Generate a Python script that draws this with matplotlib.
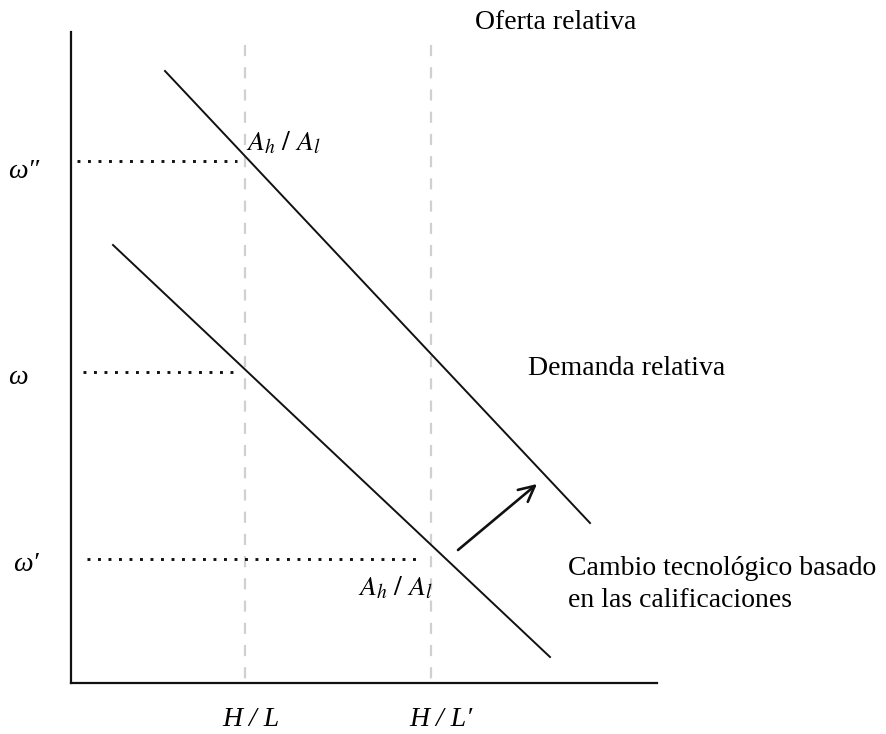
import matplotlib
matplotlib.use('Agg')
import matplotlib.pyplot as plt

plt.rcParams['mathtext.fontset'] = 'stix'
plt.rcParams['font.family'] = ['Liberation Serif', 'DejaVu Serif']

# ---- data (schematic diagram, figure-pixel-like units; y measured upward) ----
supply_x = [245, 431]                 # H/L and H/L'
supply_y = [689, 51]
supply_labels = ['H / L', 'H / L′']
supply_label_x = [251, 441]

demand_upper_x = [165, 590]
demand_upper_y = [663, 211]
demand_lower_x = [113, 550]
demand_lower_y = [489, 77]

wage_levels = [573, 362, 175]         # omega'', omega, omega'
wage_start_x = [77, 83, 87]
wage_end_x = [237, 240, 420]
wage_labels = ['ω″', 'ω', 'ω′']
wage_label_x = [8, 8, 13]
wage_label_base = [556, 350, 163]

arrow_from = (458, 184)
arrow_to = (537, 250)

W, H = 886, 734
fig = plt.figure(figsize=(W / 100, H / 100), dpi=100)
ax = fig.add_axes([71 / W, 51 / H, (657 - 71) / W, (702 - 51) / H])
ax.set_xlim(71, 657)
ax.set_ylim(51, 702)
for s in ['top', 'right']:
    ax.spines[s].set_visible(False)
for s in ['left', 'bottom']:
    ax.spines[s].set_linewidth(1.6)
    ax.spines[s].set_color('#111111')
ax.set_xticks([])
ax.set_yticks([])

# relative supply (vertical dashed)
for x in supply_x:
    ax.plot([x, x], supply_y, color='#d0d0d0', lw=1.6, ls=(0, (5, 5)), clip_on=False)

# relative demand curves
ax.plot(demand_upper_x, demand_upper_y, color='#111111', lw=1.4)
ax.plot(demand_lower_x, demand_lower_y, color='#111111', lw=1.4)

# dotted wage levels
for y, x0, x1 in zip(wage_levels, wage_start_x, wage_end_x):
    ax.plot([x0, x1], [y, y], color='#111111', lw=2.1, ls=(0, (1, 2.6)))

# shift arrow
ax.annotate('', xy=arrow_to, xytext=arrow_from,
            arrowprops=dict(arrowstyle='->', lw=1.9, color='#111111',
                            mutation_scale=28, shrinkA=0, shrinkB=0))

fs = 20
for lab, x, yb in zip(wage_labels, wage_label_x, wage_label_base):
    ax.text(x, yb, lab, fontsize=fs, style='italic', ha='left', va='baseline', clip_on=False)
for lab, x in zip(supply_labels, supply_label_x):
    ax.text(x, 8, lab, fontsize=fs, style='italic', ha='center', va='baseline', clip_on=False)

ax.text(246, 584, r'$A_h\ /\ A_l$', fontsize=fs, ha='left', va='baseline')
ax.text(358, 139, r'$A_h\ /\ A_l$', fontsize=fs, ha='left', va='baseline')

ax.text(475, 705, 'Oferta relativa', fontsize=fs, ha='left', va='baseline', clip_on=False)
ax.text(528, 359, 'Demanda relativa', fontsize=fs, ha='left', va='baseline', clip_on=False)
ax.text(568, 159, 'Cambio tecnológico basado', fontsize=fs, ha='left', va='baseline', clip_on=False)
ax.text(568, 127, 'en las calificaciones', fontsize=fs, ha='left', va='baseline', clip_on=False)

fig.savefig('out.png', dpi=100)
